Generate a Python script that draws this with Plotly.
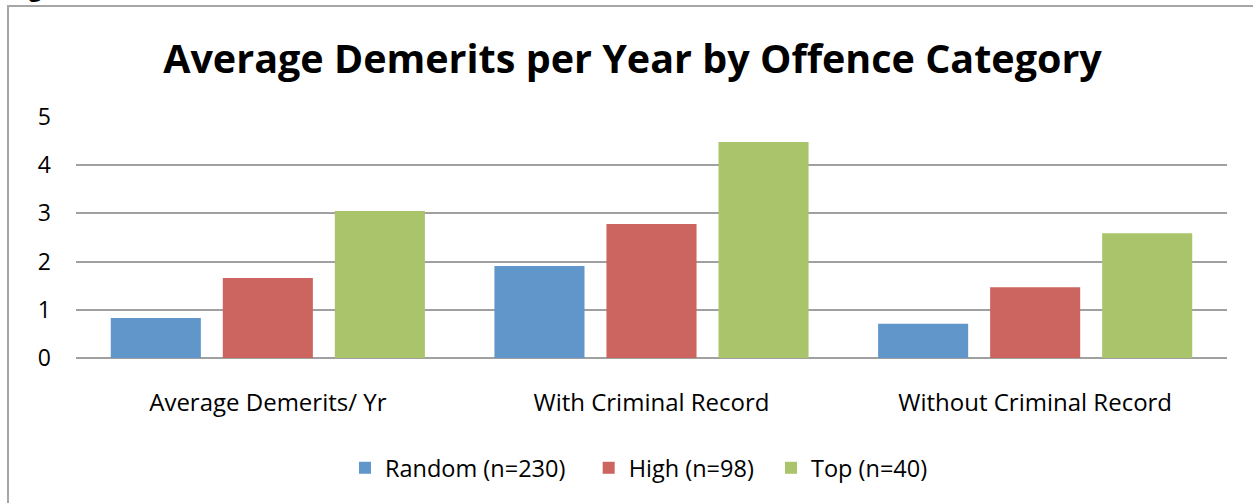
import plotly.graph_objects as go

categories = ["Average Demerits/ Yr", "With Criminal Record", "Without Criminal Record"]
series_names = ["Random (n=230)", "High (n=98)", "Top (n=40)"]
random_vals = [0.83, 1.91, 0.71]
high_vals = [1.66, 2.78, 1.47]
top_vals = [3.05, 4.48, 2.59]
colors = ["#6096C9", "#CC6560", "#AAC46B"]
y_ticks = [0, 1, 2, 3, 4, 5]

W, H = 1253, 503
ml, mr, mt, mb = 76, 26, 117, 145
pw, ph = W - ml - mr, H - mt - mb

pads = ["\u00a0" * 3, "\u00a0" * 2, ""]
fig = go.Figure()
for name, vals, col, p in zip(series_names, [random_vals, high_vals, top_vals], colors, pads):
    fig.add_trace(go.Bar(x=categories, y=vals, name=name + p, marker=dict(color=col, line=dict(width=0))))

font = "Open Sans"
fig.update_layout(
    width=W, height=H,
    margin=dict(l=ml, r=mr, t=mt, b=mb, pad=0, autoexpand=False),
    paper_bgcolor="white", plot_bgcolor="white",
    barmode="group", bargap=0.124, bargroupgap=0.196,
    font=dict(family=font, size=23, color="#000000"),
    title=dict(text="<b>Average Demerits per Year by Offence Category</b>",
               x=632.5 / W, xanchor="center", y=1 - 59 / H, yanchor="middle",
               font=dict(family=font, size=39.5, color="#000000")),
    xaxis=dict(showgrid=False, showline=False, ticks="", tickfont=dict(size=24),
               ticklabelstandoff=28, automargin=False),
    yaxis=dict(range=[0, 5], tickvals=y_ticks, showgrid=True, gridcolor="#A0A0A0", gridwidth=2,
               zeroline=True, zerolinecolor="#A0A0A0", zerolinewidth=2, showline=False,
               ticks="", tickfont=dict(size=23), ticklabelstandoff=24, automargin=False),
    legend=dict(orientation="h", x=(639 - ml) / pw, xanchor="center", y=-(468 - (H - mb)) / ph,
                yanchor="middle", font=dict(size=23.5), itemwidth=30, traceorder="normal"),
    showlegend=True,
)

# outer chart frame
fig.add_shape(type="rect", xref="paper", yref="paper",
              x0=(8 - ml) / pw, x1=(W + 20 - ml) / pw,
              y0=-(H + 20 - (H - mb)) / ph, y1=1 + (mt - 6) / ph,
              line=dict(color="#A6A6A6", width=2), fillcolor="rgba(0,0,0,0)", layer="below")

# clipped text glyph at the very top edge of the image (as in the reference)
fig.add_annotation(text="<b>g</b>", xref="paper", yref="paper",
                   x=(35 - ml) / pw, y=1 + (mt - 5) / ph, xanchor="center", yanchor="bottom",
                   showarrow=False, font=dict(family=font, size=22, color="#000000"))

fig.write_html("out.html", config={"displayModeBar": False},
               post_script="document.body.style.margin='0';")
